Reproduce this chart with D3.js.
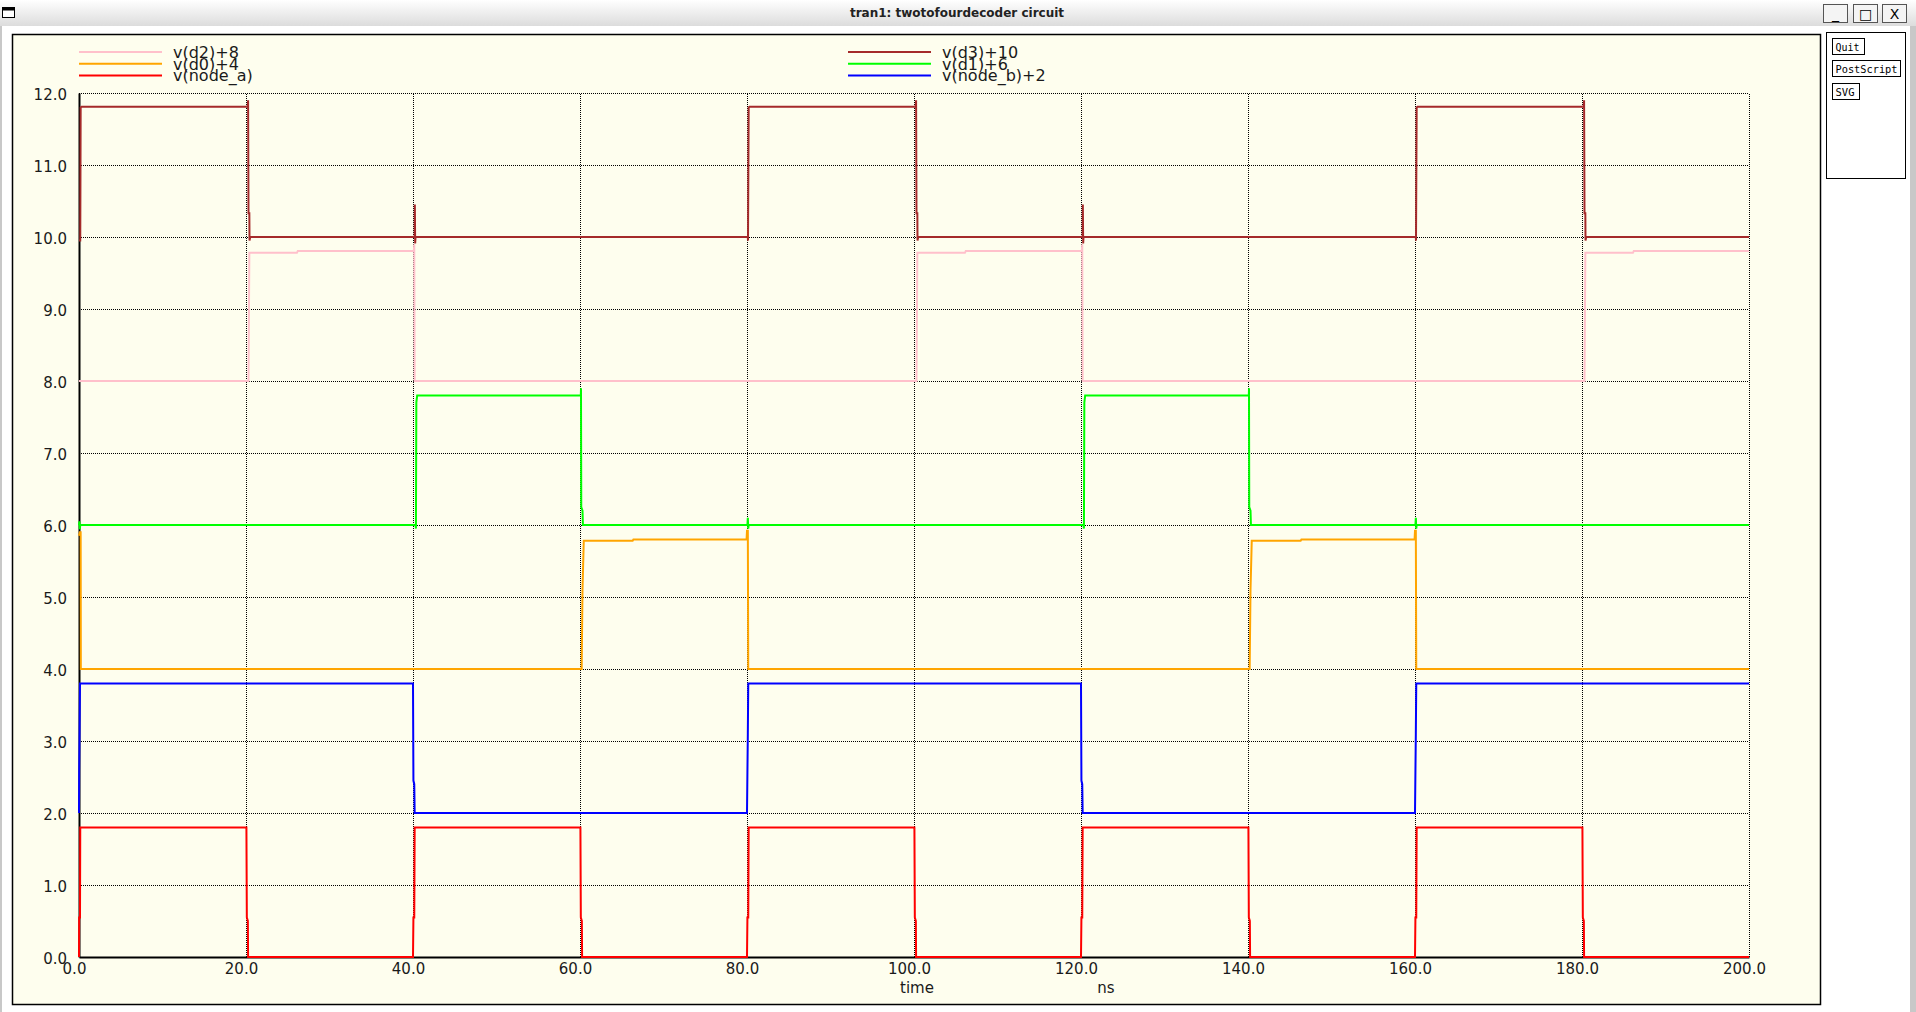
<!DOCTYPE html>
<html>
<head>
<meta charset="utf-8">
<script src="https://cdn.jsdelivr.net/npm/d3@7"></script>
<style>
  body { margin: 0; background: #fff; }
  svg { display: block; font-family: 'DejaVu Sans', sans-serif; }
</style>
</head>
<body>
<svg id="win" width="1916" height="1012"></svg>
<script>
// ticks
const xTicks = [0, 20, 40, 60, 80, 100, 120, 140, 160, 180, 200];
const yTicks = [0, 1, 2, 3, 4, 5, 6, 7, 8, 9, 10, 11, 12];

// traces: [time ns, volts] (raw, before offset)
const nodeA = [
  [0, 0], [0.02, 0.55], [0.12, 0.55], [0.15, 1.8],
  [20.05, 1.8], [20.1, 0.55], [20.22, 0.5], [20.25, 0],
  [40.0, 0], [40.05, 0.55], [40.15, 0.55], [40.2, 1.8],
  [60.05, 1.8], [60.1, 0.55], [60.22, 0.5], [60.25, 0],
  [80.0, 0], [80.05, 0.55], [80.15, 0.55], [80.2, 1.8],
  [100.05, 1.8], [100.1, 0.55], [100.22, 0.5], [100.25, 0],
  [120.0, 0], [120.05, 0.55], [120.15, 0.55], [120.2, 1.8],
  [140.05, 1.8], [140.1, 0.55], [140.22, 0.5], [140.25, 0],
  [160.0, 0], [160.05, 0.55], [160.15, 0.55], [160.2, 1.8],
  [180.05, 1.8], [180.1, 0.55], [180.22, 0.5], [180.25, 0],
  [200, 0]
];
const nodeB = [
  [0, 0], [0.02, 0.57], [0.07, 1.15], [0.12, 1.8],
  [40.0, 1.8], [40.05, 0.45], [40.15, 0.4], [40.2, 0],
  [80.0, 0], [80.05, 0.57], [80.1, 1.1], [80.15, 1.8],
  [120.0, 1.8], [120.05, 0.45], [120.15, 0.4], [120.2, 0],
  [160.0, 0], [160.05, 0.57], [160.1, 1.1], [160.15, 1.8],
  [200, 1.8]
];
const d0 = [
  [0, 1.85], [0.1, 1.9], [0.2, 1.9], [0.22, 0],
  [60.2, 0], [60.3, 1.1], [60.45, 1.78], [66.3, 1.78], [66.4, 1.8],
  [79.95, 1.8], [80.0, 1.92], [80.1, 1.92], [80.15, 0],
  [140.2, 0], [140.3, 1.1], [140.45, 1.78], [146.3, 1.78], [146.4, 1.8],
  [159.95, 1.8], [160.0, 1.92], [160.1, 1.92], [160.15, 0],
  [200, 0]
];
const d1 = [
  [0, 0], [0.05, 0.05], [0.1, -0.06], [0.15, 0],
  [40.3, 0], [40.35, -0.05], [40.4, 1.7], [40.5, 1.8],
  [60.1, 1.8], [60.12, 1.9], [60.15, 0.25], [60.3, 0.2], [60.35, 0],
  [80.05, 0], [80.1, 0.1], [80.15, -0.05], [80.2, 0],
  [120.3, 0], [120.35, -0.05], [120.4, 1.7], [120.5, 1.8],
  [140.1, 1.8], [140.12, 1.9], [140.15, 0.25], [140.3, 0.2], [140.35, 0],
  [160.05, 0], [160.1, 0.1], [160.15, -0.05], [160.2, 0],
  [200, 0]
];
const d2 = [
  [0, 0], [20.3, 0], [20.4, 1.78], [26.1, 1.78], [26.2, 1.805],
  [40.1, 1.805], [40.15, 1.9], [40.2, 0],
  [100.3, 0], [100.4, 1.78], [106.1, 1.78], [106.2, 1.805],
  [120.1, 1.805], [120.15, 1.9], [120.2, 0],
  [180.3, 0], [180.4, 1.78], [186.1, 1.78], [186.2, 1.805],
  [200, 1.805]
];
const d3v = [
  [0, -0.05], [0.15, -0.05], [0.2, 1.8], [0.3, 1.81],
  [20.2, 1.81], [20.25, 1.9], [20.3, 0.33], [20.4, 0.33], [20.42, -0.05], [20.5, 0],
  [40.2, 0], [40.22, 0.45], [40.26, -0.09], [40.3, 0],
  [80.1, 0], [80.12, -0.05], [80.2, 1.8], [80.3, 1.81],
  [100.2, 1.81], [100.25, 1.9], [100.3, 0.33], [100.4, 0.33], [100.42, -0.05], [100.5, 0],
  [120.2, 0], [120.22, 0.45], [120.26, -0.09], [120.3, 0],
  [160.1, 0], [160.12, -0.05], [160.2, 1.8], [160.3, 1.81],
  [180.2, 1.81], [180.25, 1.9], [180.3, 0.33], [180.4, 0.33], [180.42, -0.05], [180.5, 0],
  [200, 0]
];

const labels = ['v(node_a)', 'v(node_b)+2', 'v(d0)+4', 'v(d1)+6', 'v(d2)+8', 'v(d3)+10'];
const offsets = [0, 2, 4, 6, 8, 10];
const colors = ['#ff0000', '#0000ff', '#ffa500', '#00ff00', '#ffc0cb', '#a52a2a'];
const traces = [nodeA, nodeB, d0, d1, d2, d3v];

const svg = d3.select('#win');

// window chrome
const grad = svg.append('defs').append('linearGradient')
  .attr('id', 'tb').attr('x1', 0).attr('y1', 0).attr('x2', 0).attr('y2', 1);
grad.append('stop').attr('offset', '0%').attr('stop-color', '#ffffff');
grad.append('stop').attr('offset', '100%').attr('stop-color', '#dcdcdc');
svg.append('rect').attr('x', 0).attr('y', 0).attr('width', 1916).attr('height', 26).attr('fill', 'url(#tb)');
svg.append('rect').attr('x', 0).attr('y', 26).attr('width', 2).attr('height', 986).attr('fill', '#c8c8c8');
svg.append('rect').attr('x', 1910).attr('y', 26).attr('width', 6).attr('height', 986).attr('fill', '#c8c8c8');
svg.append('rect').attr('x', 2.5).attr('y', 7.5).attr('width', 12).attr('height', 10)
  .attr('fill', '#fff').attr('stroke', '#000');
svg.append('rect').attr('x', 2.5).attr('y', 7.5).attr('width', 12).attr('height', 3).attr('fill', '#000');
svg.append('text').attr('x', 957).attr('y', 17).attr('text-anchor', 'middle')
  .attr('font-size', 12).attr('font-weight', 'bold').attr('fill', '#222')
  .text('tran1: twotofourdecoder circuit');

const winBtns = [['_', 1823], ['\u25A1', 1853], ['X', 1882]];
winBtns.forEach(function(b) {
  svg.append('rect').attr('x', b[1] + 0.5).attr('y', 4.5).attr('width', 24).attr('height', 18)
    .attr('fill', '#f4f4f4').attr('stroke', '#555');
  svg.append('text').attr('x', b[1] + 12.5).attr('y', 19).attr('text-anchor', 'middle')
    .attr('font-size', 14).attr('fill', '#000').text(b[0]);
});

// right button panel
svg.append('rect').attr('x', 1826.5).attr('y', 32.5).attr('width', 79).attr('height', 146)
  .attr('fill', '#fff').attr('stroke', '#000');
const panelBtns = [['Quit', 38, 32, 24], ['PostScript', 60, 68, 62], ['SVG', 83, 27, 19]];
panelBtns.forEach(function(b) {
  svg.append('rect').attr('x', 1832.5).attr('y', b[1] + 0.5).attr('width', b[2]).attr('height', 16)
    .attr('fill', '#fff').attr('stroke', '#000');
  svg.append('text').attr('x', 1835.5).attr('y', b[1] + 12.5)
    .attr('font-family', "'DejaVu Sans Mono', monospace").attr('font-size', 10.5)
    .attr('textLength', b[3]).attr('lengthAdjust', 'spacingAndGlyphs')
    .attr('fill', '#000').text(b[0]);
});

// plot frame
svg.append('rect').attr('x', 12.5).attr('y', 34.5).attr('width', 1808).attr('height', 970)
  .attr('fill', '#fefeee').attr('stroke', '#000').attr('stroke-width', 1.5);

const x = d3.scaleLinear().domain([0, 200]).range([79, 1749]);
const y = d3.scaleLinear().domain([0, 12]).range([957, 93]);

// grid
const gx = svg.append('g').attr('transform', 'translate(0,' + y(0) + ')')
  .call(d3.axisBottom(x).tickValues(xTicks.slice(1)).tickSize(-(y(0) - y(12))).tickFormat(''));
gx.select('.domain').remove();
gx.selectAll('line').attr('stroke', '#000').attr('stroke-dasharray', '1,1')
  .attr('shape-rendering', 'crispEdges');

const gy = svg.append('g').attr('transform', 'translate(' + x(0) + ',0)')
  .call(d3.axisLeft(y).tickValues(yTicks.slice(1)).tickSize(-(x(200) - x(0))).tickFormat(''));
gy.select('.domain').remove();
gy.selectAll('line').attr('stroke', '#000').attr('stroke-dasharray', '1,1')
  .attr('shape-rendering', 'crispEdges');

// axes
const ax = svg.append('g').attr('transform', 'translate(0,' + y(0) + ')')
  .call(d3.axisBottom(x).tickValues(xTicks).tickSize(0).tickPadding(6).tickFormat(d3.format('.1f')));
ax.select('.domain').attr('stroke', '#000').attr('stroke-width', 2);
ax.selectAll('text').attr('font-size', 15).attr('font-family', "'DejaVu Sans', sans-serif")
  .attr('fill', '#1a1a1a').attr('dx', -5);

const ay = svg.append('g').attr('transform', 'translate(' + x(0) + ',0)')
  .call(d3.axisLeft(y).tickValues(yTicks).tickSize(0).tickPadding(12).tickFormat(d3.format('.1f')));
ay.select('.domain').attr('stroke', '#000').attr('stroke-width', 2);
ay.selectAll('text').attr('font-size', 15).attr('font-family', "'DejaVu Sans', sans-serif")
  .attr('fill', '#1a1a1a').attr('dy', '0.45em');

svg.append('text').attr('x', 917).attr('y', 993).attr('text-anchor', 'middle')
  .attr('font-size', 15).attr('fill', '#1a1a1a').text('time');
svg.append('text').attr('x', 1106).attr('y', 993).attr('text-anchor', 'middle')
  .attr('font-size', 15).attr('fill', '#1a1a1a').text('ns');

// traces
const line = d3.line()
  .x(function(d) { return x(d[0]); })
  .y(function(d) { return y(d[1]); });

traces.forEach(function(tr, i) {
  svg.append('path')
    .datum(tr.map(function(p) { return [p[0], p[1] + offsets[i]]; }))
    .attr('d', line)
    .attr('fill', 'none')
    .attr('stroke', colors[i])
    .attr('stroke-width', 2);
});

// legend: left column d2, d0, node_a; right column d3, d1, node_b
const legendOrder = [4, 2, 0, 5, 3, 1];
legendOrder.forEach(function(idx, k) {
  const col = Math.floor(k / 3);
  const row = k % 3;
  const lx = col === 0 ? 79 : 848;
  const ly = 52 + row * 11.7;
  svg.append('line').attr('x1', lx).attr('x2', lx + 83).attr('y1', ly).attr('y2', ly)
    .attr('stroke', colors[idx]).attr('stroke-width', 2);
  svg.append('text').attr('x', lx + 94).attr('y', ly + 6)
    .attr('font-size', 16).attr('fill', '#1a1a1a').text(labels[idx]);
});
</script>
</body>
</html>
